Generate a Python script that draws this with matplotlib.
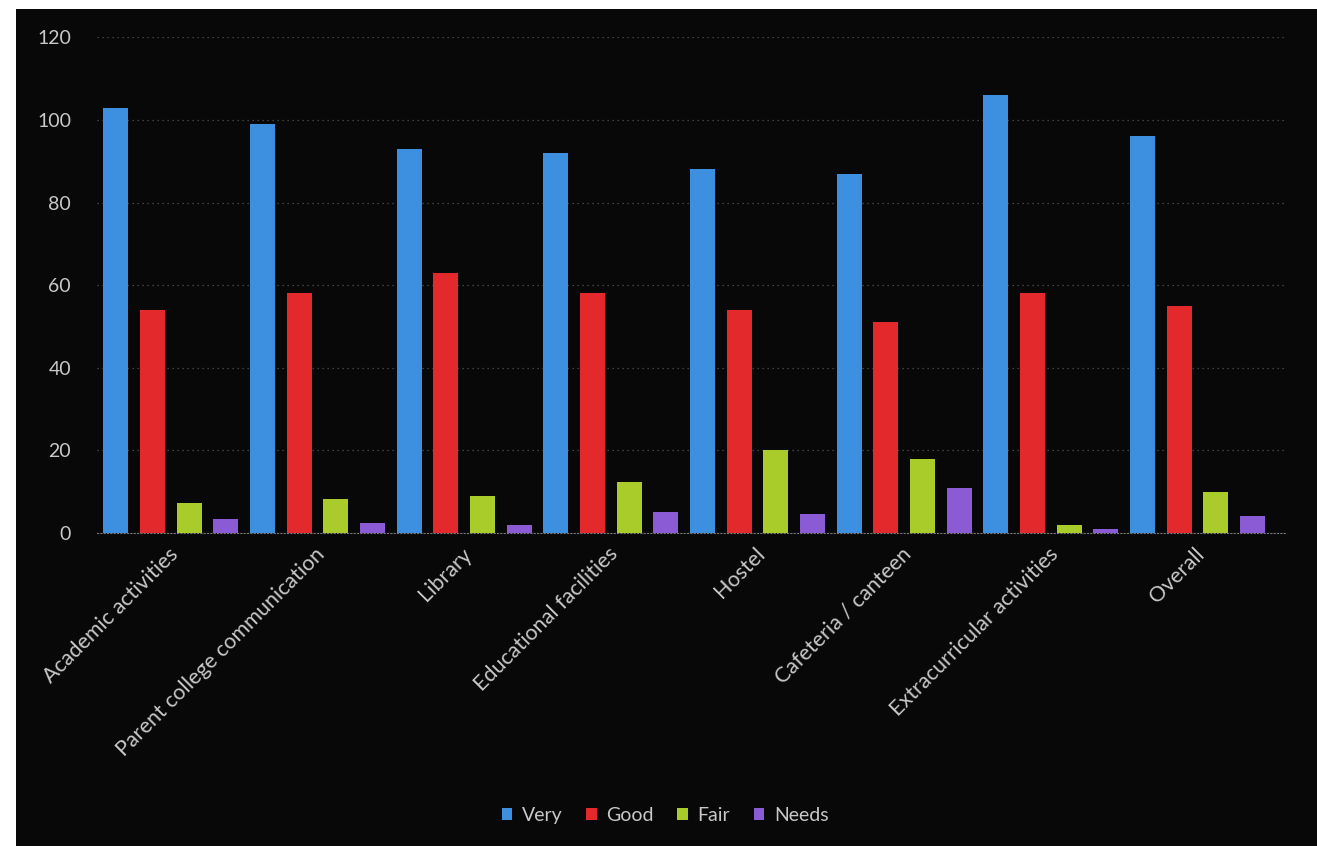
import numpy as np
import matplotlib
matplotlib.use("Agg")
import matplotlib.pyplot as plt

categories = ["Academic activities", "Parent college communication", "Library",
              "Educational facilities", "Hostel", "Cafeteria / canteen",
              "Extracurricular activities", "Overall"]
series_names = ["Very", "Good", "Fair", "Needs"]
very = [103, 99, 93, 92, 88, 87, 106, 96]
good = [54, 58, 63, 58, 54, 51, 58, 55]
fair = [7.3, 8.3, 9, 12.3, 20, 18, 2, 10]
needs = [3.4, 2.3, 2, 5, 4.7, 11, 1, 4]
colors = ["#3d8fe0", "#e3292b", "#a9cc2b", "#8b5bd6"]

plt.rcParams['font.family'] = ['Lato', 'DejaVu Sans']
txt = "#c8c8c8"

fig = plt.figure(figsize=(13.17, 8.68), dpi=100, facecolor="white")
# photo of a dark slide: black panel inside a thin white margin
bg = fig.add_axes([0.012, 0.025, 0.988, 0.965], zorder=-1)
bg.set_facecolor("#080808")
bg.set_xticks([])
bg.set_yticks([])
for s in bg.spines.values():
    s.set_visible(False)

ax = fig.add_axes([0.074, 0.386, 0.902, 0.571])
ax.set_facecolor("none")

x = np.arange(len(categories))
width = 0.17
step = 0.25
for i, (vals, name) in enumerate(zip([very, good, fair, needs], series_names)):
    ax.bar(x + (i - 1.5) * step, vals, width, color=colors[i], label=name, zorder=3)

ax.set_ylim(0, 120)
ax.set_xlim(-0.5, 7.6)
ax.set_yticks(range(0, 121, 20))
ax.yaxis.grid(True, color="#555555", linestyle=(0, (1, 3)), linewidth=0.9, zorder=0)
ax.tick_params(axis="y", length=0, colors=txt, labelsize=14, pad=19)
ax.tick_params(axis="x", length=0, pad=8)
for s in ["top", "right", "left"]:
    ax.spines[s].set_visible(False)
ax.spines["bottom"].set_color("#777777")
ax.spines["bottom"].set_linestyle((0, (1, 2)))

ax.set_xticks(x - 0.02)
ax.set_xticklabels(categories, rotation=45, ha="right", rotation_mode="anchor",
                   color=txt, fontsize=15.5)

leg = fig.legend(loc="center", bbox_to_anchor=(0.505, 0.061), ncol=4, frameon=False,
                 fontsize=14, handlelength=0.55, handleheight=0.55, handletextpad=0.5,
                 columnspacing=1.2)
for t in leg.get_texts():
    t.set_color(txt)

fig.savefig("out.png", dpi=100, facecolor=fig.get_facecolor())
